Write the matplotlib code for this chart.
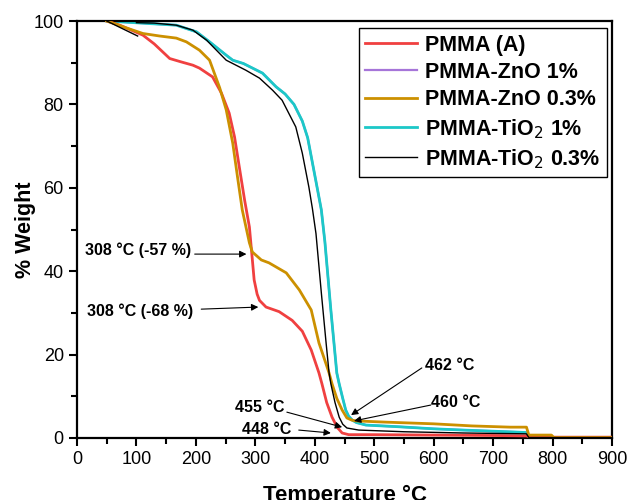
import numpy as np
import matplotlib.pyplot as plt
from matplotlib.ticker import MultipleLocator

plt.rcParams['font.family'] = ['Liberation Sans', 'DejaVu Sans']

# PMMA (A)
t_pmma = [50, 72, 111, 130, 156, 175, 195, 206, 228, 243, 256, 265, 273, 282, 290, 295, 298,
          303, 307, 318, 340, 362, 379, 394, 407, 412, 420, 429, 438, 446, 457, 500, 600,
          700, 756, 762, 900]
w_pmma = [100, 99, 96.6, 94.5, 91, 90.2, 89.4, 88.7, 86.6, 82.7, 77.9, 72.2, 65, 57, 50.6, 42.7,
          37.9, 34.5, 33, 31.4, 30.3, 28.2, 25.6, 21.1, 15.6, 13, 8.5, 5, 2.5, 1.2, 0.8, 0.8,
          0.7, 0.6, 0.5, 0.2, 0.2]

# PMMA-ZnO 0.3%
t_zno03 = [50, 84, 111, 139, 167, 184, 206, 223, 240, 251, 262, 270, 278, 290, 295, 310, 323,
           352, 374, 394, 407, 416, 424, 429, 437, 446, 454, 462, 469, 520, 600, 664, 729,
           756, 760, 798, 802, 900]
w_zno03 = [100, 98.3, 97, 96.4, 95.9, 95, 93, 90.6, 84, 78.7, 70.7, 62.6, 54.7, 46.8, 44.6, 42.7,
           42, 39.6, 35.5, 30.7, 22.8, 19, 15.6, 13, 9.5, 6.7, 4.8, 4.3, 4.1, 3.8, 3.4, 2.9,
           2.6, 2.6, 0.7, 0.7, 0.1, 0.1]

# PMMA-TiO2 1%
t_tio1 = [50, 120, 167, 201, 223, 251, 262, 280, 312, 335, 350, 365, 379, 388, 396, 404, 411,
          417, 427, 437, 441, 447, 452, 457, 463, 470, 486, 541, 600, 650, 742, 756, 760, 900]
w_tio1 = [100, 99.4, 99, 97.4, 95, 91.8, 90.6, 89.8, 87.5, 84.2, 82.5, 80, 76, 72, 66, 60, 54.7,
          47, 30.7, 15.6, 13, 9.5, 6.7, 5.2, 4.3, 3.7, 3.1, 2.7, 2.2, 1.9, 1.4, 1.3, 0.1, 0.1]

# PMMA-TiO2 0.3%
t_tio03 = [100, 130, 167, 195, 218, 251, 284, 307, 329, 345, 368, 379, 390, 396, 402, 406, 411,
           419, 424, 427, 434, 441, 447, 454, 474, 550, 650, 756, 760, 900]
w_tio03 = [99.6, 99.5, 99, 97.8, 95.4, 90.6, 88.2, 86.3, 83.4, 81, 74.6, 68.3, 60.2, 55, 49, 42.7,
           34.8, 22.8, 15.6, 13, 8.5, 5, 3.3, 2.4, 1.9, 1.5, 1.2, 1.0, 0.1, 0.1]
t_tio03_start = [50, 102]
w_tio03_start = [100, 96.4]

fig = plt.figure(figsize=(6.31, 5), dpi=100)
ax = fig.add_axes([0.122, 0.124, 0.848, 0.834])

# ZnO 1% sits under the TiO2 1% curve
ax.plot(t_tio1, w_tio1, color='#a675d9', lw=1.6, label='PMMA-ZnO 1%', zorder=1)
ax.plot(t_pmma, w_pmma, color='#f04040', lw=2, label='PMMA (A)', zorder=3)
ax.plot(t_zno03, w_zno03, color='#cc9000', lw=2, label='PMMA-ZnO 0.3%', zorder=3)
ax.plot(t_tio1, w_tio1, color='#1cc8c8', lw=2, label='PMMA-TiO$_2$ 1%', zorder=2)
ax.plot(t_tio03, w_tio03, color='black', lw=1, label='PMMA-TiO$_2$ 0.3%', zorder=4)
ax.plot(t_tio03_start, w_tio03_start, color='black', lw=1, zorder=4)

handles, labels = ax.get_legend_handles_labels()
order = [1, 0, 2, 3, 4]
leg = ax.legend([handles[i] for i in order], [labels[i] for i in order],
                loc='upper right', bbox_to_anchor=(0.991, 0.983), fancybox=False,
                edgecolor='black', framealpha=1, borderaxespad=0,
                prop={'weight': 'bold', 'size': 15.5}, handlelength=2.4,
                handletextpad=0.4, labelspacing=0.3, borderpad=0.3)
leg.get_frame().set_linewidth(1)

ax.set_xlim(0, 900)
ax.set_ylim(0, 100)
ax.xaxis.set_major_locator(MultipleLocator(100))
ax.xaxis.set_minor_locator(MultipleLocator(50))
ax.yaxis.set_major_locator(MultipleLocator(20))
ax.yaxis.set_minor_locator(MultipleLocator(10))
ax.tick_params(which='both', direction='out', width=1.5, labelsize=13, top=False, right=False)
ax.tick_params(which='major', length=6)
ax.tick_params(which='minor', length=4)
for s in ax.spines.values():
    s.set_linewidth(1.6)

ax.set_xlabel('Temperature °C', fontsize=16, fontweight='bold', labelpad=12)
ax.set_ylabel('% Weight', fontsize=15.5, fontweight='bold', labelpad=-2)

arrow = dict(arrowstyle='-|>', color='black', lw=0.8, mutation_scale=10, shrinkA=0, shrinkB=0)
txt = dict(fontsize=11.5, fontweight='bold', va='center', ha='left')

ax.text(13, 45, '308 °C (-57 %)', **txt)
ax.annotate('', xy=(285, 44.1), xytext=(198, 44.1), arrowprops=arrow)
ax.text(17, 30.5, '308 °C (-68 %)', **txt)
ax.annotate('', xy=(305, 31.4), xytext=(209, 30.9), arrowprops=arrow)
ax.text(586, 17.5, '462 °C', **txt)
ax.annotate('', xy=(461, 5.5), xytext=(580, 16.8), arrowprops=arrow)
ax.text(596, 8.6, '460 °C', **txt)
ax.annotate('', xy=(466, 4.1), xytext=(595, 7.9), arrowprops=arrow)
ax.text(266, 7.4, '455 °C', **txt)
ax.annotate('', xy=(446, 2.6), xytext=(353, 6.2), arrowprops=arrow)
ax.text(278, 2.1, '448 °C', **txt)
ax.annotate('', xy=(427, 1.2), xytext=(373, 1.9), arrowprops=arrow)

fig.savefig('out.png', dpi=100)
